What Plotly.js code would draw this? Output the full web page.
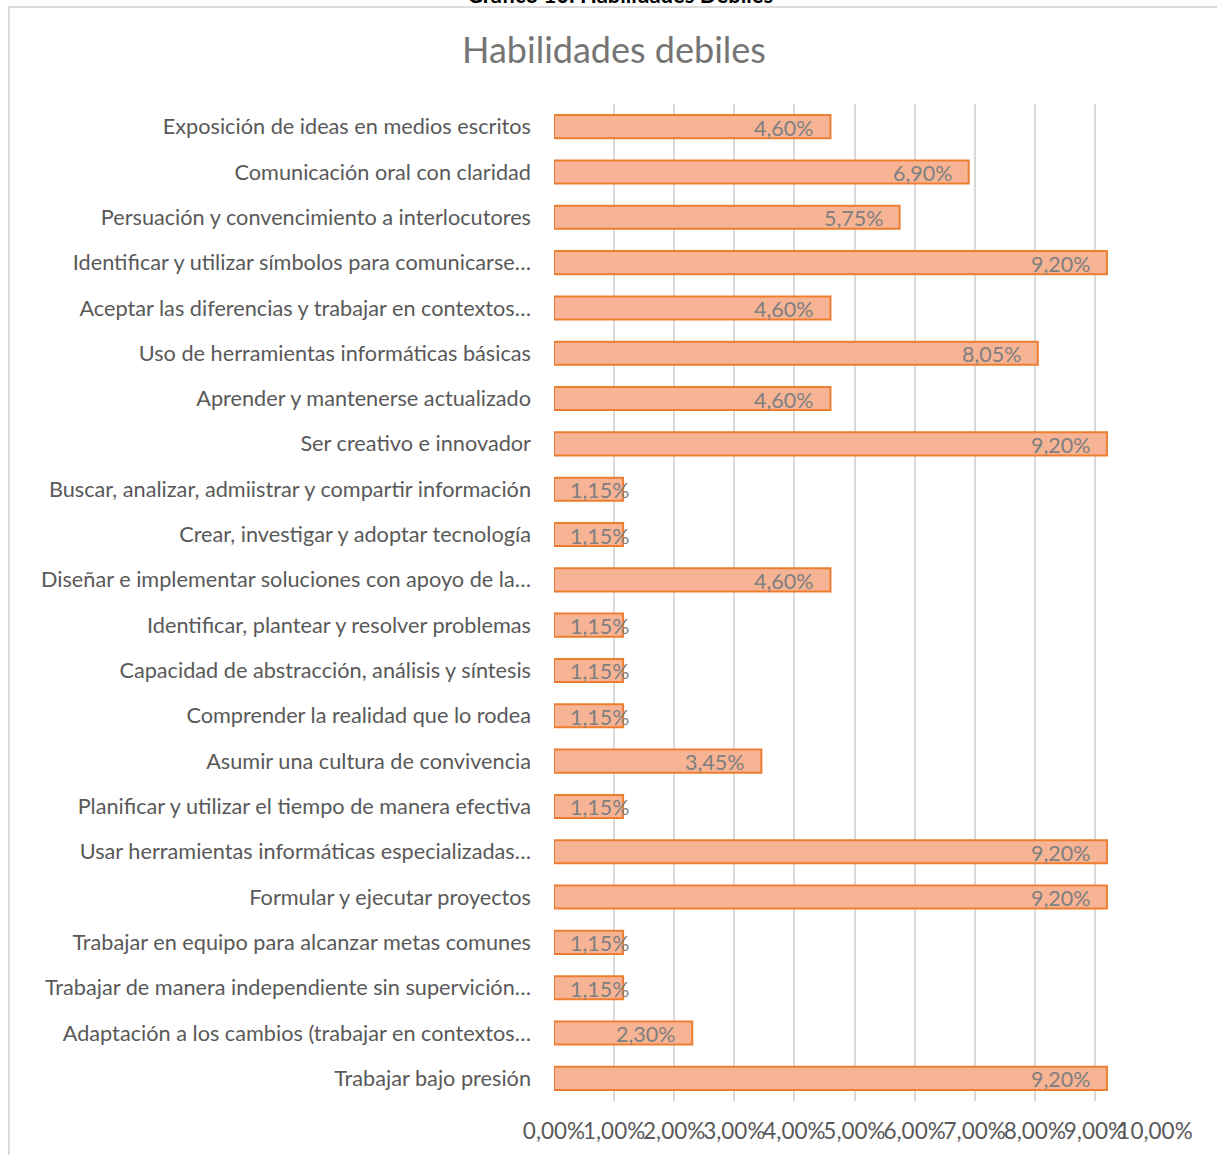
<!DOCTYPE html>
<html>
<head>
<meta charset="utf-8">
<script src="https://cdn.plot.ly/plotly-3.0.1.min.js"></script>
<style>
  html, body { margin: 0; padding: 0; background: #ffffff; }
  #wrap { position: relative; width: 1217px; height: 1155px; overflow: hidden; }
  #frame { position: absolute; left: 8px; top: 6px; width: 1230px; height: 1170px; border: 2px solid #dcdcdc; box-sizing: border-box; }
  #chart { position: absolute; left: 0; top: 0; width: 1217px; height: 1155px; }
</style>
</head>
<body>
<div id="wrap">
  <div id="frame"></div>
  <div id="chart"></div>
</div>
<script>
const categories = [
  "Exposición de ideas en medios escritos",
  "Comunicación oral con claridad",
  "Persuación y convencimiento a interlocutores",
  "Identificar y utilizar símbolos para comunicarse…",
  "Aceptar las diferencias y trabajar en contextos…",
  "Uso de herramientas informáticas básicas",
  "Aprender y mantenerse actualizado",
  "Ser creativo e innovador",
  "Buscar, analizar, admiistrar y compartir información",
  "Crear, investigar y adoptar tecnología",
  "Diseñar e implementar soluciones con apoyo de la…",
  "Identificar, plantear y resolver problemas",
  "Capacidad de abstracción, análisis y síntesis",
  "Comprender la realidad que lo rodea",
  "Asumir una cultura de convivencia",
  "Planificar y utilizar el tiempo de manera efectiva",
  "Usar herramientas informáticas especializadas…",
  "Formular y ejecutar proyectos",
  "Trabajar en equipo para alcanzar metas comunes",
  "Trabajar de manera independiente sin supervición…",
  "Adaptación a los cambios (trabajar en contextos…",
  "Trabajar bajo presión"
];
const values = [4.60, 6.90, 5.75, 9.20, 4.60, 8.05, 4.60, 9.20, 1.15, 1.15, 4.60, 1.15, 1.15, 1.15, 3.45, 1.15, 9.20, 9.20, 1.15, 1.15, 2.30, 9.20];
const tickValues = [0, 1, 2, 3, 4, 5, 6, 7, 8, 9, 10];
const tickLabels = ["0,00%", "1,00%", "2,00%", "3,00%", "4,00%", "5,00%", "6,00%", "7,00%", "8,00%", "9,00%", "10,00%"];
const chartTitle = "Habilidades debiles";
const pageCaption = "Gráfico 10: Habilidades Débiles";

const fmt = v => v.toFixed(2).replace('.', ',') + '%';

const FONT = "Lato, 'Open Sans', sans-serif";

const trace = {
  type: 'bar',
  orientation: 'h',
  y: categories,
  x: values,
  marker: { color: '#f6b495', line: { color: '#ed7d31', width: 2 } },
  hoverinfo: 'x+y',
  cliponaxis: false
};

// data labels ("inside end" style), built from the values
const labelAnnotations = values.map((v, i) => {
  const small = v < 2;
  return {
    x: small ? 0 : v,
    y: categories[i],
    xref: 'x', yref: 'y',
    text: fmt(v),
    showarrow: false,
    xanchor: small ? 'left' : 'right',
    xshift: small ? 14 : -14,
    yshift: -1,
    font: { family: FONT, size: 21.5, color: '#7f7f7f' }
  };
});

const captionAnnotation = {
  xref: 'paper', yref: 'paper', x: 0.11, y: 1, yanchor: 'bottom', xanchor: 'center',
  yshift: 94, showarrow: false,
  text: '<b>' + pageCaption + '</b>',
  font: { family: FONT, size: 22, color: '#000000' }
};

const layout = {
  width: 1217,
  height: 1155,
  margin: { l: 554, r: 62, t: 104, b: 54 },
  paper_bgcolor: 'rgba(0,0,0,0)',
  plot_bgcolor: 'rgba(0,0,0,0)',
  separators: ',.',
  showlegend: false,
  bargap: 0.49,
  title: {
    text: chartTitle,
    x: 0.5045, xref: 'container', xanchor: 'center',
    y: 1, yref: 'container', yanchor: 'top', pad: { t: 38 },
    font: { family: FONT, size: 36, color: '#757575' }
  },
  xaxis: {
    range: [0, 10],
    tickvals: tickValues,
    ticktext: tickLabels,
    tickangle: 0,
    showgrid: true,
    gridcolor: '#d9d9d9',
    gridwidth: 2,
    zeroline: false,
    showline: false,
    ticks: '',
    ticklabelstandoff: 14,
    tickfont: { family: FONT, size: 22.5, color: '#595959' },
    fixedrange: true
  },
  yaxis: {
    type: 'category',
    autorange: 'reversed',
    showgrid: false,
    zeroline: false,
    showline: false,
    ticks: '',
    ticklabelstandoff: 22,
    tickfont: { family: FONT, size: 21.7, color: '#595959' },
    fixedrange: true
  },
  annotations: [captionAnnotation].concat(labelAnnotations)
};

Plotly.newPlot('chart', [trace], layout, { displayModeBar: false, staticPlot: true });
</script>
</body>
</html>
